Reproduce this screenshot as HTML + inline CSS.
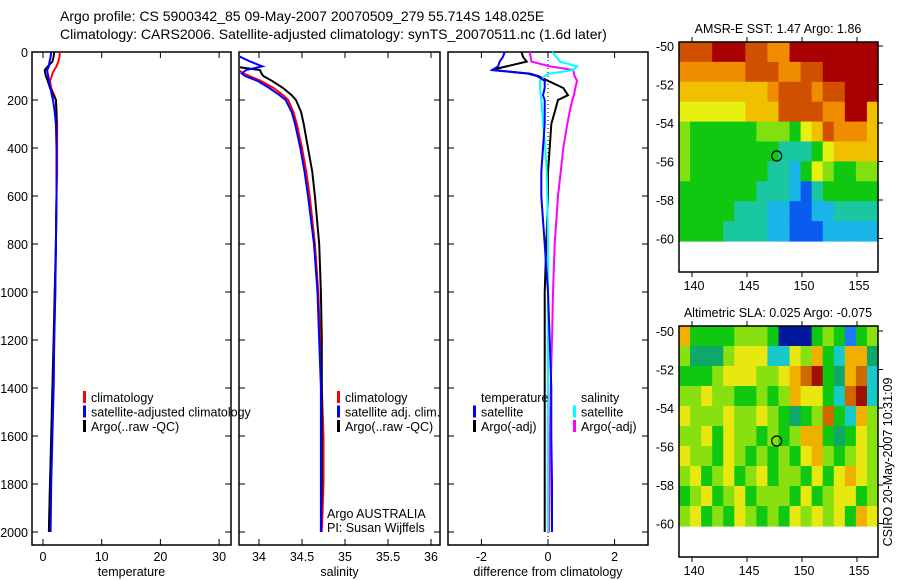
<!DOCTYPE html>
<html><head><meta charset="utf-8">
<style>
html,body{margin:0;padding:0;background:#fff;}
svg{display:block;font-family:"Liberation Sans",sans-serif;}
text{font-size:12.5px;fill:#000;}
</style></head>
<body>
<svg id="fig" width="900" height="580" viewBox="0 0 900 580">
<rect x="0" y="0" width="900" height="580" fill="#fff"/>
<text x="60" y="21" style="font-size:14px">Argo profile: CS 5900342_85 09-May-2007 20070509_279 55.714S 148.025E</text>
<text x="60" y="39" style="font-size:14px">Climatology: CARS2006. Satellite-adjusted climatology: synTS_20070511.nc (1.6d later)</text>
<g id="g"></g>
</svg>
<script>
// ---- profile data ----
const depths = [0,20,40,60,75,90,100,120,150,180,200,250,300,400,500,600,800,1000,1200,1400,1600,1800,2000];
const tempClim = [2.9,2.8,2.6,2.3,1.9,1.6,1.5,1.2,1.4,1.9,2.2,2.3,2.4,2.4,2.4,2.3,2.2,2.1,1.9,1.8,1.5,1.2,1.0];
const tempSat  = [1.4,1.3,1.1,1.0,0.7,0.8,0.9,1.0,1.3,1.5,1.7,2.0,2.2,2.3,2.3,2.3,2.2,2.1,1.9,1.8,1.6,1.4,1.3];
const tempArgo = [1.9,1.8,1.6,0.8,0.3,0.4,0.5,0.8,1.2,1.8,2.2,2.3,2.3,2.3,2.3,2.3,2.2,2.0,1.8,1.6,1.4,1.2,1.0];
const salClim = [33.72,33.72,33.73,33.74,33.76,33.82,33.89,34.02,34.17,34.28,34.34,34.40,34.44,34.50,34.55,34.59,34.65,34.69,34.71,34.73,34.75,34.75,34.73];
const salSat  = [33.72,33.78,33.9,34.04,33.85,33.80,33.84,33.98,34.12,34.24,34.31,34.38,34.42,34.48,34.53,34.57,34.64,34.68,34.70,34.72,34.72,34.72,34.72];
const salArgo = [33.73,33.72,33.72,33.70,34.01,34.03,34.05,34.15,34.28,34.38,34.43,34.49,34.52,34.57,34.62,34.65,34.70,34.72,34.73,34.73,34.73,34.73,34.72];
const dTempSat  = [-1.3,-1.35,-1.45,-1.5,-1.67,-0.6,-0.33,-0.1,-0.1,-0.15,-0.1,-0.1,-0.1,-0.15,-0.2,-0.2,-0.1,0.0,0.05,0.1,0.1,0.12,0.12];
const dTempArgo = [-0.8,-0.75,-0.64,-1.25,-1.7,-0.55,-0.3,0.0,0.46,0.6,0.3,0.2,0.1,0.05,0.0,0.0,-0.05,-0.1,-0.1,-0.1,-0.1,-0.1,-0.1];
const dSalSat   = [0.12,0.25,0.36,0.87,0.76,0.06,-0.1,-0.24,-0.24,-0.22,-0.2,-0.17,-0.15,-0.08,-0.04,-0.02,0.0,0.0,0.0,0.0,0.0,0.0,0.0];
const dSalArgo  = [-0.55,-0.52,-0.5,0.06,0.76,0.78,0.8,0.87,0.82,0.78,0.73,0.65,0.58,0.46,0.38,0.3,0.2,0.15,0.12,0.08,0.06,0.05,0.03];
const depthTicks = [0,200,400,600,800,1000,1200,1400,1600,1800,2000];
const tempTicks = [0,10,20,30];
const salTicks = [34,34.5,35,35.5,36];
const diffTicks = [-2,0,2];
// ---- map data (rows lat -50..-60, cols lon west->east), digit = colour class ----
const sstGrid = [
"888999887799999999",
"777777888778899999",
"666666667888788999",
"555555666888877996",
"433333344435687776",
"433333333222356666",
"433333332213543344",
"333333322210233333",
"333332221100112222",
"333322221100011111"];
const slaGrid = [
"744445554000454145",
"533356662265742773",
"444566655678943782",
"556554454576642892",
"655565565434584275",
"556465545457743465",
"655465454546754565",
"564564564554646765",
"456456455546456645",
"564546545465656476"];
const sstColors = ["#0a5cf0","#19b4e8","#19c8a0","#10c810","#80e010","#e8f010","#f0c000","#f08c00","#d05000","#a80000"];
const slaColors = ["#00189c","#1e78ff","#19c8c8","#10a868","#10c810","#88e010","#e8e810","#f0b000","#d06800","#a01000"];
const mapLonTicks = [140,145,150,155];
const mapLatTicks = [-50,-52,-54,-56,-58,-60];
const argoLon = 147.7, argoLat = -55.714;

const NS="http://www.w3.org/2000/svg";
const G=document.getElementById('g');
function mk(tag,attrs,parent){const e=document.createElementNS(NS,tag);for(const k in attrs)e.setAttribute(k,attrs[k]);(parent||G).appendChild(e);return e;}
function txt(x,y,s,anchor,parent){const t=mk('text',{x:x,y:y,'text-anchor':anchor||'start'},parent);t.textContent=s;return t;}

// depth axis
const Y0=52, YS=0.24, YB=545;
const yD=d=>Y0+d*YS;
function panel(name,x0,x1,ticks,xf,label,left){
  const g=mk('g',{});
  
  
  const r=mk('rect',{x:x0,y:Y0,width:x1-x0,height:YB-Y0,fill:'none',stroke:'#000','stroke-width':1.5},g);
  
  
  depthTicks.forEach(d=>{
    mk('line',{x1:x0,x2:x0+6,y1:yD(d),y2:yD(d),stroke:'#000'},g);
    mk('line',{x1:x1-6,x2:x1,y1:yD(d),y2:yD(d),stroke:'#000'},g);
    if(left){const t=txt(28,yD(d)+5,String(d),'end',g);
      
      }
  });
  ticks.forEach(v=>{const x=xf(v);
    mk('line',{x1:x,x2:x,y1:Y0,y2:Y0+6,stroke:'#000'},g);
    mk('line',{x1:x,x2:x,y1:YB-6,y2:YB,stroke:'#000'},g);
    const t=txt(x,561,String(v),'middle',g);
    
    
  });
  const l=txt((x0+x1)/2,576,label,'middle',g);
  
  
  return g;
}
function series(name,vals,xf,color,g,w){
  const pts=vals.map((v,i)=>xf(v).toFixed(1)+','+yD(depths[i]).toFixed(1)).join(' ');
  const p=mk('polyline',{points:pts,fill:'none',stroke:color,'stroke-width':w||2},g);
  
  
}
function legend(items,x,y0,g){
  items.forEach((it,i)=>{const y=y0+i*14.5;
    if(it[1]) mk('rect',{x:x,y:y-11,width:3,height:12,fill:it[1]},g);
    const t=txt(x+8,y,it[0],'start',g);
    
    
  });
}
// panel 1 temperature
const xT=v=>43+v*5.87;
const p1=panel('temperature-panel',32,231,tempTicks,xT,'temperature',true);
series('temp-climatology',tempClim,xT,'#f00',p1);
series('temp-argo',tempArgo,xT,'#000',p1);
series('temp-satellite',tempSat,xT,'#00f',p1);
legend([['climatology','#f00'],['satellite-adjusted climatology','#00f'],['Argo(..raw -QC)','#000']],83,402,p1);
// panel 2 salinity
const xS=v=>259+(v-34)*86;
const p2=panel('salinity-panel',239,440,salTicks,xS,'salinity',false);
const cp=mk('clipPath',{id:'c2'});mk('rect',{x:240,y:Y0,width:199,height:YB-Y0},cp);
const p2c=mk('g',{'clip-path':'url(#c2)'},p2);
series('sal-climatology',salClim,xS,'#f00',p2c);
series('sal-argo',salArgo,xS,'#000',p2c);
series('sal-satellite',salSat,xS,'#00f',p2c);
legend([['climatology','#f00'],['satellite adj. clim.','#00f'],['Argo(..raw -QC)','#000']],337,402,p2);
const a1=txt(327,518,'Argo AUSTRALIA','start',p2);


const a2=txt(327,532,'PI: Susan Wijffels','start',p2);


// panel 3 diff
const xDf=v=>548+v*33.3;
const p3=panel('difference-panel',448,648,diffTicks,xDf,'difference from climatology',false);
const zl=mk('line',{x1:xDf(0),x2:xDf(0),y1:Y0,y2:YB,stroke:'#000','stroke-dasharray':'1,3'},p3);


series('dtemp-argo',dTempArgo,xDf,'#000',p3);
series('dsal-argo',dSalArgo,xDf,'#f0f',p3);
series('dsal-satellite',dSalSat,xDf,'#0ff',p3);
series('dtemp-satellite',dTempSat,xDf,'#00f',p3);
legend([['temperature',null],['satellite','#00f'],['Argo(-adj)','#000']],473,402,p3);
legend([['salinity',null],['satellite','#0ff'],['Argo(-adj)','#f0f']],573,402,p3);

// maps
function map(name,grid,colors,top,dataTop,dataBot,boxBot,lat50,title){
  const g=mk('g',{});
  
  
  const X0=679,X1=878;
  const lonX=l=>692+(l-140)*11;
  const latY=l=>lat50+(-50-l)*19.25;
  const rows=grid.length, cols=grid[0].length;
  const cw=(X1-X0)/cols, ch=(dataBot-dataTop)/rows;
  grid.forEach((row,r)=>{[...row].forEach((c,k)=>{
    const cell=mk('rect',{x:(X0+k*cw).toFixed(2),y:(dataTop+r*ch).toFixed(2),width:(cw+0.6).toFixed(2),height:(ch+0.6).toFixed(2),fill:colors[+c]},g);
    
    
  });});
  mk('rect',{x:X0,y:top,width:X1-X0,height:boxBot-top,fill:'none',stroke:'#000','stroke-width':1.5},g);
  mapLonTicks.forEach(l=>{const x=lonX(l);
    mk('line',{x1:x,x2:x,y1:top-5,y2:top,stroke:'#000'},g);
    mk('line',{x1:x,x2:x,y1:boxBot,y2:boxBot+5,stroke:'#000'},g);
    const t=txt(x+2,boxBot+18,String(l),'middle',g);
    
    
  });
  mapLatTicks.forEach(l=>{const y=latY(l);
    mk('line',{x1:X1,x2:X1+5,y1:y,y2:y,stroke:'#000'},g);
    const t=txt(674,y+5,String(l),'end',g);
    
    
  });
  const ci=mk('circle',{cx:lonX(argoLon),cy:latY(argoLat),r:5,fill:'none',stroke:'#000','stroke-width':1.2},g);
  
  
  const tt=txt(778,top-9,title,'middle',g);
  
  
}
map('sst-map',sstGrid,sstColors,42,42,241,272,46,'AMSR-E SST: 1.47 Argo: 1.86');
map('sla-map',slaGrid,slaColors,326,326,526,557,331,'Altimetric SLA: 0.025 Argo: -0.075');
const st=txt(0,0,'CSIRO 20-May-2007 10:31:09','middle');
st.setAttribute('transform','translate(892,462) rotate(-90)');


</script>
</body></html>
